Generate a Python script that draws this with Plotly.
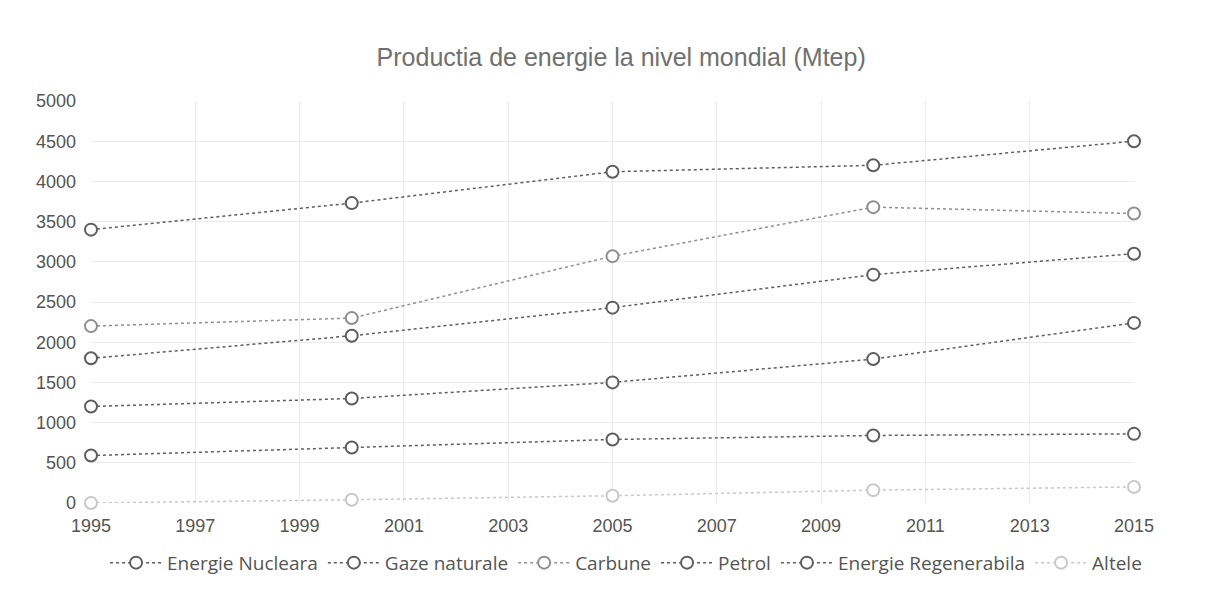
import plotly.graph_objects as go

years = [1995, 2000, 2005, 2010, 2015]
energie_nucleara = [590, 690, 790, 840, 860]
gaze_naturale = [1800, 2080, 2430, 2840, 3100]
carbune = [2200, 2300, 3070, 3680, 3600]
petrol = [3400, 3730, 4120, 4200, 4500]
energie_regenerabila = [1200, 1300, 1500, 1790, 2240]
altele = [0, 40, 90, 160, 200]

series = [
    ("Energie Nucleara", energie_nucleara, "#5e5e5e"),
    ("Gaze naturale", gaze_naturale, "#5e5e5e"),
    ("Carbune", carbune, "#8f8f8f"),
    ("Petrol", petrol, "#5e5e5e"),
    ("Energie Regenerabila", energie_regenerabila, "#5e5e5e"),
    ("Altele", altele, "#c8c8c8"),
]

fig = go.Figure()
for name, vals, col in series:
    fig.add_trace(go.Scatter(
        x=years, y=vals, name=name, mode="lines+markers",
        line=dict(color=col, width=1.5, dash="dot"),
        marker=dict(symbol="circle", size=12, color="white",
                    line=dict(color=col, width=2)),
        cliponaxis=False,
    ))

fig.update_layout(
    width=1200, height=584,
    paper_bgcolor="white", plot_bgcolor="white",
    margin=dict(l=83, r=74, t=93, b=89, autoexpand=False),
    title=dict(text="Productia de energie la nivel mondial (Mtep)",
               x=0.511, xanchor="center", y=0.916, yanchor="middle",
               font=dict(family="Liberation Sans, Arial", size=25, color="#707070")),
    font=dict(family="Liberation Sans, Arial", size=18, color="#555"),
    legend=dict(orientation="h", x=0.513, xanchor="center",
                yref="container", y=0.05, yanchor="middle",
                font=dict(family="Open Sans, Noto Sans", size=19, color="#555"),
                itemwidth=52, tracegroupgap=0),
    showlegend=True,
)
fig.update_xaxes(range=[1995, 2015], dtick=2, tick0=1995, showgrid=True,
                 gridcolor="#ebebeb", zeroline=False, showline=False,
                 ticks="", ticklabelstandoff=10,
                 tickfont=dict(size=18, color="#555"))
fig.update_yaxes(range=[0, 5000], dtick=500, showgrid=True,
                 gridcolor="#ebebeb", zeroline=False, showline=False,
                 ticks="", ticklabelstandoff=14,
                 tickfont=dict(size=18, color="#555"))

fig.write_html("out.html")
